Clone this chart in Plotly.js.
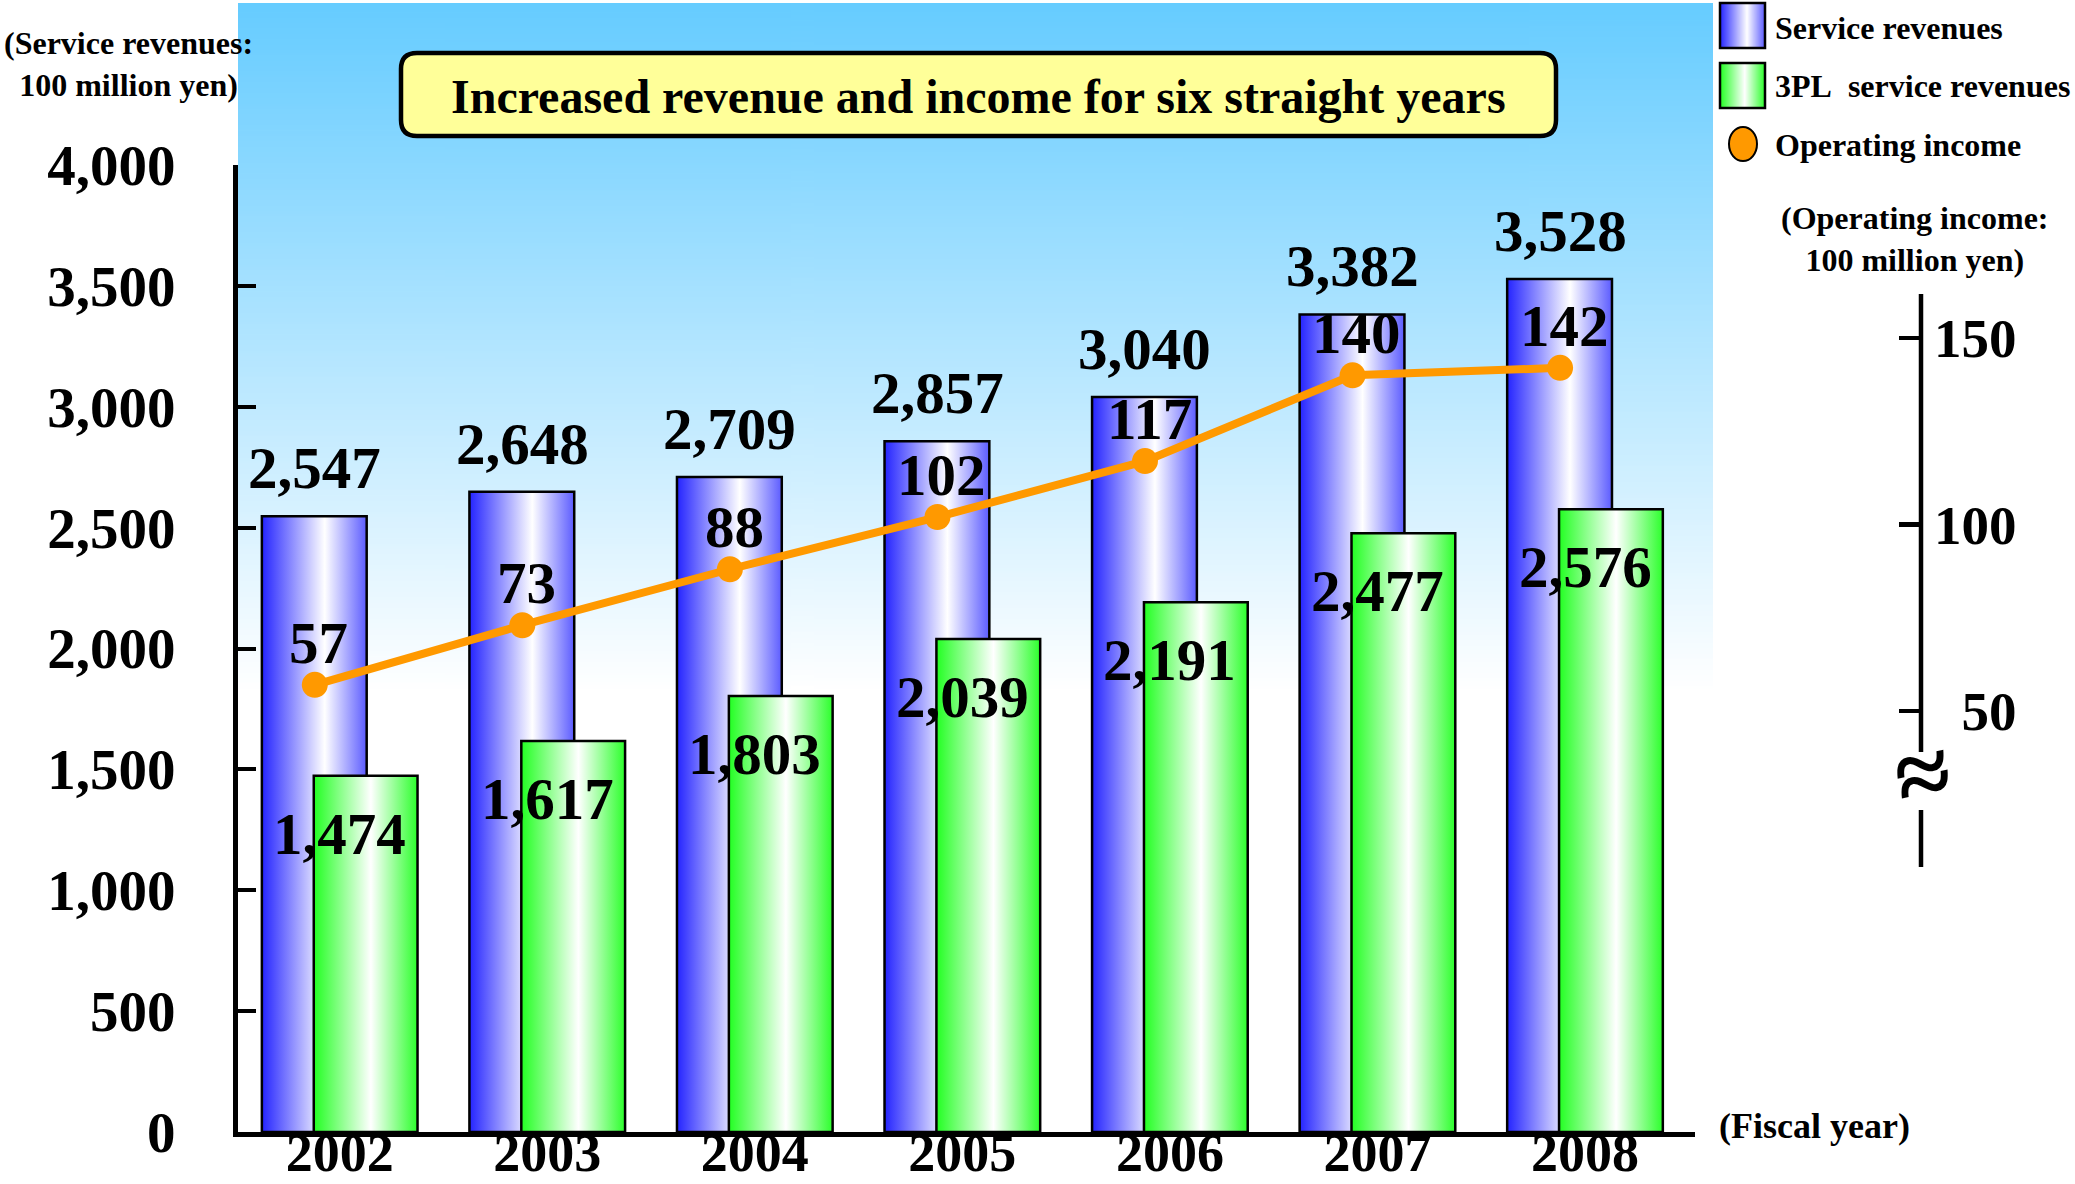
<!DOCTYPE html>
<html>
<head>
<meta charset="utf-8">
<script src="https://cdn.plot.ly/plotly-3.0.1.min.js"></script>
<style>
  html, body { margin: 0; padding: 0; background: #ffffff; }
  #chart { width: 2075px; height: 1184px; }
</style>
</head>
<body>
<div id="chart"></div>
<script>
// ---------- data ----------
const years = ['2002', '2003', '2004', '2005', '2006', '2007', '2008'];
const serviceRevenues = [2547, 2648, 2709, 2857, 3040, 3382, 3528];
const tplRevenues = [1474, 1617, 1803, 2039, 2191, 2477, 2576];
const operatingIncome = [57, 73, 88, 102, 117, 140, 142];
const leftTicks = [0, 500, 1000, 1500, 2000, 2500, 3000, 3500, 4000];
const rightTicks = [50, 100, 150];

// ---------- layout helpers ----------
const W = 2075, H = 1184;
const M = { l: 238, r: 115, t: 165, b: 52 };
const PW = W - M.l - M.r, PH = H - M.t - M.b;
const px2x = p => (p - M.l) / PW;
const px2y = p => (H - M.b - p) / PH;

const FONT = 'Liberation Serif, Times New Roman, serif';
const fmt = v => v.toLocaleString('en-US');
const idx = years.map((_, i) => i);
const lineOffset = -0.12;

function gradImg(stops, horizontal) {
  const c = document.createElement('canvas');
  c.width = horizontal ? 256 : 4;
  c.height = horizontal ? 4 : 256;
  const ctx = c.getContext('2d');
  const g = horizontal ? ctx.createLinearGradient(0, 0, 256, 0) : ctx.createLinearGradient(0, 0, 0, 256);
  stops.forEach(s => g.addColorStop(s[0], s[1]));
  ctx.fillStyle = g;
  ctx.fillRect(0, 0, c.width, c.height);
  return c.toDataURL('image/png');
}

const blueStops = [[0, '#2424ff'], [0.6, '#ffffff'], [1, '#5c5cff']];
const greenStops = [[0, '#22ff22'], [0.55, '#ffffff'], [1, '#2cff2c']];
const bgStops = [[0, '#66ccff'], [1, '#ffffff']];

function roundRectPath(x0, y0, x1, y1, r) {
  const X = px2x, Y = px2y;
  return `M ${X(x0 + r)} ${Y(y0)} L ${X(x1 - r)} ${Y(y0)} Q ${X(x1)} ${Y(y0)} ${X(x1)} ${Y(y0 + r)} ` +
         `L ${X(x1)} ${Y(y1 - r)} Q ${X(x1)} ${Y(y1)} ${X(x1 - r)} ${Y(y1)} ` +
         `L ${X(x0 + r)} ${Y(y1)} Q ${X(x0)} ${Y(y1)} ${X(x0)} ${Y(y1 - r)} ` +
         `L ${X(x0)} ${Y(y0 + r)} Q ${X(x0)} ${Y(y0)} ${X(x0 + r)} ${Y(y0)} Z`;
}

// ---------- traces ----------
const traces = [
  {
    type: 'bar', name: 'Service revenues',
    x: idx, y: serviceRevenues,
    width: 0.505, offset: -0.375,
    marker: { color: '#9a9aff', line: { color: '#000000', width: 2.5 } },
    hoverinfo: 'skip', showlegend: false
  },
  {
    type: 'bar', name: '3PL service revenues',
    x: idx, y: tplRevenues,
    width: 0.5, offset: -0.125,
    marker: { color: '#8cff8c', line: { color: '#000000', width: 2.5 } },
    hoverinfo: 'skip', showlegend: false
  },
  {
    type: 'scatter', mode: 'lines+markers', name: 'Operating income',
    x: idx.map(i => i + lineOffset), y: operatingIncome, yaxis: 'y2',
    line: { color: '#ff9900', width: 8 },
    marker: { color: '#ff9900', size: 26 },
    hoverinfo: 'skip', showlegend: false, cliponaxis: false
  }
];

// ---------- annotations ----------
const annotations = [];
const big = { family: FONT, size: 59, color: '#000', weight: 700 };

serviceRevenues.forEach((v, i) => annotations.push({
  x: i - 0.12, y: v, xref: 'x', yref: 'y', text: fmt(v), showarrow: false,
  yshift: 48, xanchor: 'center', yanchor: 'middle', font: big
}));
tplRevenues.forEach((v, i) => annotations.push({
  x: i, y: v, xref: 'x', yref: 'y', text: fmt(v), showarrow: false,
  yshift: -58, xanchor: 'center', yanchor: 'middle', font: big
}));
operatingIncome.forEach((v, i) => annotations.push({
  x: i + lineOffset + 0.02, y: v, xref: 'x', yref: 'y2', text: String(v), showarrow: false,
  yshift: 42, xanchor: 'center', yanchor: 'middle', font: big
}));

const small = { family: FONT, size: 32, color: '#000', weight: 700 };
const legendFont = { family: FONT, size: 32, color: '#000', weight: 700 };
annotations.push(
  { xref: 'paper', yref: 'paper', x: px2x(128), y: px2y(64), text: '(Service revenues:<br>100 million yen)',
    showarrow: false, xanchor: 'center', yanchor: 'middle', align: 'center', font: small },
  { xref: 'paper', yref: 'paper', x: px2x(1915), y: px2y(239), text: '(Operating income:<br>100 million yen)',
    showarrow: false, xanchor: 'center', yanchor: 'middle', align: 'center', font: small },
  { xref: 'paper', yref: 'paper', x: px2x(1814), y: px2y(1126), text: '(Fiscal year)',
    showarrow: false, xanchor: 'center', yanchor: 'middle', font: { family: FONT, size: 36, color: '#000', weight: 700 } },
  { xref: 'paper', yref: 'paper', x: px2x(978), y: px2y(97), text: 'Increased revenue and income for six straight years',
    showarrow: false, xanchor: 'center', yanchor: 'middle', font: { family: FONT, size: 48, color: '#000', weight: 700 } },
  { xref: 'paper', yref: 'paper', x: px2x(1773), y: px2y(28), text: 'Service revenues',
    showarrow: false, xanchor: 'left', yanchor: 'middle', font: legendFont },
  { xref: 'paper', yref: 'paper', x: px2x(1773), y: px2y(86), text: '3PL\u00a0 service revenues',
    showarrow: false, xanchor: 'left', yanchor: 'middle', font: legendFont },
  { xref: 'paper', yref: 'paper', x: px2x(1773), y: px2y(145), text: 'Operating income',
    showarrow: false, xanchor: 'left', yanchor: 'middle', font: legendFont },
  { xref: 'paper', yref: 'paper', x: px2x(1922), y: px2y(774), text: '\u2248',
    showarrow: false, xanchor: 'center', yanchor: 'middle', textangle: -12,
    font: { family: FONT, size: 100, color: '#000', weight: 700 } }
);

// ---------- shapes ----------
const shapes = [
  { type: 'path', xref: 'paper', yref: 'paper', path: roundRectPath(401, 53, 1556, 136, 16),
    fillcolor: '#ffff99', line: { color: '#000', width: 4.5 }, layer: 'above' },
  { type: 'line', xref: 'paper', yref: 'paper', x0: px2x(1921), x1: px2x(1921), y0: px2y(294), y1: px2y(752),
    line: { color: '#000', width: 4.5 } },
  { type: 'line', xref: 'paper', yref: 'paper', x0: px2x(1921), x1: px2x(1921), y0: px2y(810), y1: px2y(867),
    line: { color: '#000', width: 4.5 } },
  { type: 'rect', xref: 'paper', yref: 'paper', x0: px2x(1720), x1: px2x(1765), y0: px2y(3), y1: px2y(48),
    line: { color: '#000', width: 2.5 }, fillcolor: 'rgba(0,0,0,0)' },
  { type: 'rect', xref: 'paper', yref: 'paper', x0: px2x(1720), x1: px2x(1765), y0: px2y(63), y1: px2y(108),
    line: { color: '#000', width: 2.5 }, fillcolor: 'rgba(0,0,0,0)' },
  { type: 'circle', xref: 'paper', yref: 'paper', x0: px2x(1729), x1: px2x(1757), y0: px2y(127), y1: px2y(161),
    line: { color: '#000', width: 2 }, fillcolor: '#ff9900' }
];

// ---------- images (gradient fills) ----------
const images = [
  { source: gradImg(bgStops, false), xref: 'paper', yref: 'paper',
    x: px2x(238), y: px2y(3), sizex: px2x(1713) - px2x(238), sizey: px2y(3) - px2y(690),
    xanchor: 'left', yanchor: 'top', sizing: 'stretch', layer: 'below' },
  { source: gradImg(blueStops, true), xref: 'paper', yref: 'paper',
    x: px2x(1720), y: px2y(3), sizex: px2x(1765) - px2x(1720), sizey: px2y(3) - px2y(48),
    xanchor: 'left', yanchor: 'top', sizing: 'stretch', layer: 'below' },
  { source: gradImg(greenStops, true), xref: 'paper', yref: 'paper',
    x: px2x(1720), y: px2y(63), sizex: px2x(1765) - px2x(1720), sizey: px2y(63) - px2y(108),
    xanchor: 'left', yanchor: 'top', sizing: 'stretch', layer: 'below' }
];

// ---------- layout ----------
const tickFont = { family: FONT, size: 57, color: '#000', weight: 700 };
const layout = {
  width: W, height: H,
  margin: M,
  paper_bgcolor: '#ffffff',
  plot_bgcolor: 'rgba(0,0,0,0)',
  barmode: 'overlay',
  showlegend: false,
  xaxis: {
    domain: [0, px2x(1695)],
    range: [-0.49, 6.53],
    tickvals: idx, ticktext: years,
    ticks: '', showgrid: false, zeroline: false,
    showline: true, linecolor: '#000', linewidth: 5,
    tickfont: { family: FONT, size: 54, color: '#000', weight: 700 }, ticklabelstandoff: -31,
    automargin: false, fixedrange: true
  },
  yaxis: {
    range: [0, 4000],
    tickvals: leftTicks, ticktext: leftTicks.map(fmt),
    ticks: 'inside', ticklen: 18, tickwidth: 4, tickcolor: '#000',
    showgrid: false, zeroline: false,
    showline: true, linecolor: '#000', linewidth: 5,
    tickfont: tickFont, ticklabelstandoff: 46,
    automargin: false, fixedrange: true
  },
  yaxis2: {
    overlaying: 'y', side: 'right', anchor: 'free', position: px2x(1921),
    range: [-62.9, 196.4],
    tickvals: rightTicks, ticktext: rightTicks.map(v => String(v).padStart(3, '\u2007')),
    ticks: 'inside', ticklen: 22, tickwidth: 4.5, tickcolor: '#000',
    showgrid: false, zeroline: false, showline: false,
    tickfont: { family: FONT, size: 55, color: '#000', weight: 700 }, ticklabelstandoff: 12,
    automargin: false, fixedrange: true
  },
  annotations: annotations,
  shapes: shapes,
  images: images
};

function injectGradients(gd) {
  const ns = 'http://www.w3.org/2000/svg';
  const svg = gd.querySelector('.main-svg');
  let defs = svg.querySelector('defs');
  if (!defs) { defs = document.createElementNS(ns, 'defs'); svg.insertBefore(defs, svg.firstChild); }
  function addGrad(id, stops) {
    const lg = document.createElementNS(ns, 'linearGradient');
    lg.setAttribute('id', id);
    lg.setAttribute('x1', '0'); lg.setAttribute('y1', '0');
    lg.setAttribute('x2', '1'); lg.setAttribute('y2', '0');
    stops.forEach(s => {
      const st = document.createElementNS(ns, 'stop');
      st.setAttribute('offset', s[0]);
      st.setAttribute('stop-color', s[1]);
      lg.appendChild(st);
    });
    defs.appendChild(lg);
  }
  addGrad('gradBlueBar', blueStops);
  addGrad('gradGreenBar', greenStops);
  const barTraces = gd.querySelectorAll('.barlayer .trace');
  const ids = ['gradBlueBar', 'gradGreenBar'];
  barTraces.forEach((t, k) => {
    t.querySelectorAll('.point path').forEach(p => { p.style.fill = 'url(#' + ids[k] + ')'; });
  });
}

const gd = document.getElementById('chart');
Plotly.newPlot(gd, traces, layout, { displayModeBar: false, staticPlot: true }).then(() => injectGradients(gd));
</script>
</body>
</html>
